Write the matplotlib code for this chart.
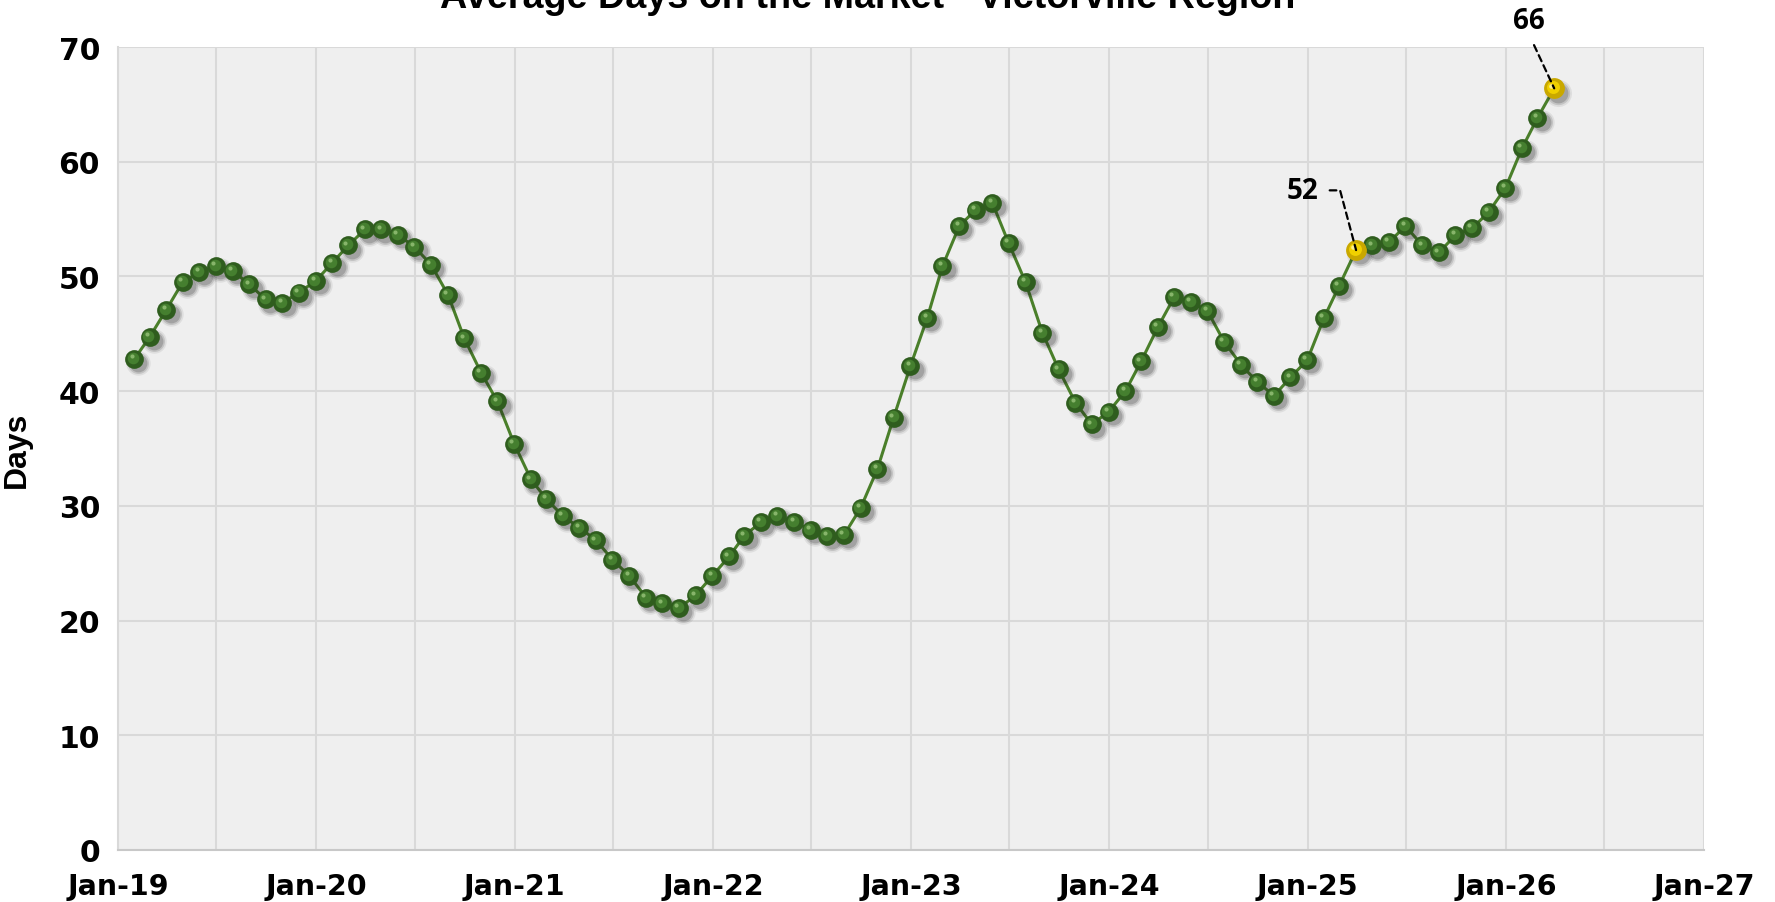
import matplotlib
matplotlib.use("Agg")
import matplotlib.pyplot as plt
import matplotlib.dates as mdates
import matplotlib.transforms as mtransforms
import numpy as np
import pandas as pd

# --- data (monthly, Jan-19 .. Mar-26) ---
months = pd.date_range("2019-01-31", "2026-03-31", freq="ME")
days = [
    42.8, 44.7, 47.1, 49.5, 50.4, 50.9, 50.5, 49.3, 48.0, 47.7, 48.6, 49.6,   # 2019
    51.2, 52.7, 54.1, 54.1, 53.6, 52.6, 51.0, 48.4, 44.6, 41.6, 39.1, 35.4,   # 2020
    32.3, 30.6, 29.1, 28.1, 27.0, 25.3, 23.9, 22.0, 21.5, 21.1, 22.2, 23.9,   # 2021
    25.6, 27.4, 28.6, 29.1, 28.6, 27.9, 27.4, 27.5, 29.8, 33.2, 37.7, 42.2,   # 2022
    46.4, 50.9, 54.4, 55.8, 56.4, 52.9, 49.5, 45.1, 41.9, 39.0, 37.1, 38.2,   # 2023
    40.0, 42.6, 45.6, 48.2, 47.8, 47.0, 44.3, 42.3, 40.8, 39.6, 41.2, 42.7,   # 2024
    46.4, 49.2, 52.3, 52.7, 53.0, 54.4, 52.7, 52.1, 53.6, 54.2, 55.6, 57.7,   # 2025
    61.2, 63.8, 66.4,                                                         # 2026
]
highlight_idx = [74, 86]          # Mar-25 and Mar-26
highlight_labels = ["52", "66"]

title = "Average Days on the Market - Victorville Region"

fig = plt.figure(figsize=(17.75, 9.03), dpi=100)
ax = fig.add_axes([0.0665, 0.0576, 0.8935, 0.8892])
ax.set_facecolor("#efefef")

x = mdates.date2num(months)
y = np.array(days)

ax.plot(x, y, color="#4a7f2a", lw=2.2, zorder=3)

def sphere(xs, ys, dark, mid, light, size):
    # soft drop shadow
    for s, a in [(1.3, 0.08), (1.12, 0.14), (0.95, 0.2)]:
        tr = mtransforms.offset_copy(ax.transData, fig=fig, x=3, y=-3, units="points")
        ax.plot(xs, ys, ls="none", marker="o", ms=size * s, mfc="#202020", mec="none",
                alpha=a, transform=tr, zorder=4)
    ax.plot(xs, ys, ls="none", marker="o", ms=size, mfc=dark, mec="none", zorder=5)
    tr = mtransforms.offset_copy(ax.transData, fig=fig, x=-0.8, y=0.8, units="points")
    ax.plot(xs, ys, ls="none", marker="o", ms=size * 0.62, mfc=mid, mec="none",
            transform=tr, zorder=6)
    tr = mtransforms.offset_copy(ax.transData, fig=fig, x=-2.0, y=2.0, units="points")
    ax.plot(xs, ys, ls="none", marker="o", ms=size * 0.22, mfc=light, mec="none",
            alpha=0.9, transform=tr, zorder=7)

mask = np.ones(len(y), bool)
mask[highlight_idx] = False
sphere(x[mask], y[mask], "#2f5d1e", "#457f2f", "#8fbc72", 13.5)
sphere(x[highlight_idx], y[highlight_idx], "#c9a800", "#f0d000", "#fff3a0", 15)

# annotations
i0, i1 = highlight_idx
ax.annotate(highlight_labels[0], xy=(x[i0], y[i0]), xytext=(-27, 43), textcoords="offset points",
            ha="right", va="center", fontsize=20, fontweight="bold", family="Open Sans",
            arrowprops=dict(arrowstyle="-", ls=(0, (3, 2)), lw=1.6, color="black",
                            relpos=(1, 0.5), shrinkA=6, shrinkB=0,
                            connectionstyle="angle,angleA=0,angleB=105,rad=0"),
            zorder=10, annotation_clip=False)
ax.annotate(highlight_labels[1], xy=(x[i1], y[i1]), xytext=(-18, 49), textcoords="offset points",
            ha="center", va="center", fontsize=20, fontweight="bold", family="Open Sans",
            arrowprops=dict(arrowstyle="-", ls=(0, (3, 2)), lw=1.6, color="black",
                            relpos=(0.5, 0), shrinkA=6, shrinkB=0),
            zorder=10, annotation_clip=False)

# axes
ax.set_xlim(mdates.date2num(pd.Timestamp("2019-01-01")), mdates.date2num(pd.Timestamp("2027-01-01")))
ax.set_ylim(0, 70)
ax.set_yticks(range(0, 71, 10))
ax.xaxis.set_major_locator(mdates.YearLocator())
ax.xaxis.set_minor_locator(mdates.MonthLocator(bymonth=7))
ax.xaxis.set_major_formatter(mdates.DateFormatter("%b-%y"))
ax.grid(True, which="both", color="#d9d9d9", lw=1.5, zorder=0)
ax.set_axisbelow(True)
ax.tick_params(which="both", length=0)
ax.tick_params(axis="x", pad=16, labelsize=20.5)
ax.tick_params(axis="y", pad=13, labelsize=21.5)
for lab in ax.get_xticklabels() + ax.get_yticklabels():
    lab.set_fontweight("heavy")
for side in ["top", "right"]:
    ax.spines[side].set_visible(False)
ax.spines["left"].set_color("#d9d9d9")
ax.spines["bottom"].set_color("#c8c8c8")
ax.spines["left"].set_linewidth(1.5)
ax.spines["bottom"].set_linewidth(1.5)

ax.set_ylabel("Days", fontsize=23, fontweight="bold", family="Liberation Sans")
ax.yaxis.set_label_coords(-0.0545, 0.5)

fig.text(868 / 1775, 1 - 8 / 903, title, ha="center", va="baseline",
         fontsize=27.2, fontweight="bold", family="Liberation Sans")

fig.savefig("out.png", dpi=100, facecolor="white")
